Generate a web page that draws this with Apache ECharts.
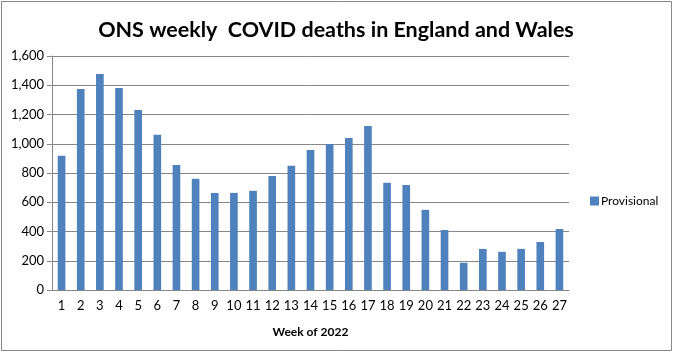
<!DOCTYPE html>
<html>
<head>
<meta charset="utf-8">
<script src="https://cdn.jsdelivr.net/npm/echarts@6/dist/echarts.min.js"></script>
<style>html,body{margin:0;padding:0;background:#fff}#c{width:675px;height:354px}</style>
</head>
<body>
<div id="c"></div>
<script>
const weeks = ['1','2','3','4','5','6','7','8','9','10','11','12','13','14','15','16','17','18','19','20','21','22','23','24','25','26','27'];
const provisional = [918,1375,1477,1382,1231,1061,855,760,664,664,678,780,849,958,999,1040,1121,733,718,548,410,186,281,261,281,328,417];
const yTicks = [0,200,400,600,800,1000,1200,1400,1600];

const chart = echarts.init(document.getElementById('c'), null, {renderer:'canvas'});
const gray = '#878787';
const font = 'Lato, "Open Sans", sans-serif';
chart.setOption({
  animation:false,
  backgroundColor:'#fff',
  title:{text:'ONS weekly  COVID deaths in England and Wales', left:331, top:14, textAlign:'center',
    textStyle:{fontFamily:font, fontSize:21.5, fontWeight:'bold', color:'#000'}},
  graphic:[{type:'rect', shape:{x:1.5,y:1.5,width:670,height:349}, style:{fill:'none', stroke:gray, lineWidth:1}, silent:true}],
  legend:{data:['Provisional'], left:585, top:190, itemWidth:9, itemHeight:9, itemGap:4,
    icon:'rect', textStyle:{fontFamily:font, fontSize:12, color:'#000', padding:[0,0,0,-3]}},
  grid:{left:52, right:106, top:56, bottom:64},
  xAxis:{type:'category', data:weeks, name:'Week of 2022', nameLocation:'middle', nameGap:36,
    nameTextStyle:{fontFamily:font, fontSize:12, fontWeight:'bold', color:'#000'},
    axisLine:{lineStyle:{color:gray}}, axisTick:{length:5, lineStyle:{color:gray}},
    axisLabel:{fontFamily:font, fontSize:13, color:'#000', margin:9, interval:0}},
  yAxis:{type:'value', min:0, max:1600, interval:200,
    axisLine:{show:true, lineStyle:{color:gray}}, axisTick:{show:true, length:5, lineStyle:{color:gray}},
    splitLine:{lineStyle:{color:gray}},
    axisLabel:{fontFamily:font, fontSize:13, color:'#000', margin:8,
      formatter:v=>v.toLocaleString('en-US')}},
  series:[{name:'Provisional', type:'bar', data:provisional, barCategoryGap:'60%',
    itemStyle:{color:'#4F81BD'}}]
});
</script>
</body>
</html>
